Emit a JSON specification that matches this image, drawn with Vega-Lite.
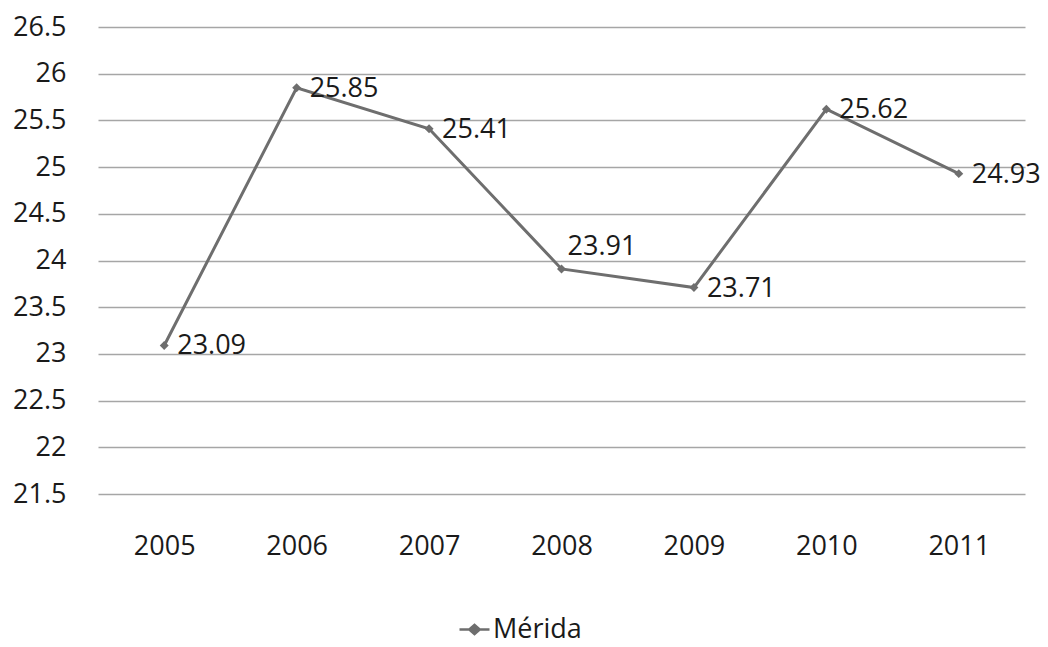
{
  "$schema": "https://vega.github.io/schema/vega-lite/v6.json",
  "width": 927,
  "height": 467,
  "autosize": {"type": "none"},
  "padding": {"left": 98, "top": 27, "right": 23, "bottom": 153},
  "background": "white",
  "config": {
    "view": {"stroke": null},
    "font": "Open Sans",
    "axis": {"labelFont": "Open Sans", "labelFontSize": 27, "labelColor": "#1a1a1a"}
  },
  "data": {
    "values": [
      {"year": "2005", "value": 23.09, "series": "Mérida", "above": false},
      {"year": "2006", "value": 25.85, "series": "Mérida", "above": false},
      {"year": "2007", "value": 25.41, "series": "Mérida", "above": false},
      {"year": "2008", "value": 23.91, "series": "Mérida", "above": true},
      {"year": "2009", "value": 23.71, "series": "Mérida", "above": false},
      {"year": "2010", "value": 25.62, "series": "Mérida", "above": false},
      {"year": "2011", "value": 24.93, "series": "Mérida", "above": false}
    ]
  },
  "encoding": {
    "x": {
      "field": "year", "type": "ordinal", "title": null,
      "scale": {"type": "point", "padding": 0.5},
      "axis": {"labelAngle": 0, "ticks": false, "domain": false, "grid": false, "labelPadding": 39}
    },
    "y": {
      "field": "value", "type": "quantitative", "title": null,
      "scale": {"domain": [21.5, 26.5], "zero": false, "nice": false},
      "axis": {
        "values": [21.5, 22, 22.5, 23, 23.5, 24, 24.5, 25, 25.5, 26, 26.5],
        "format": "~g", "ticks": false, "domain": false, "labelPadding": 32,
        "gridColor": "#a6a6a6", "gridWidth": 1.5
      }
    }
  },
  "layer": [
    {
      "mark": {"type": "line", "strokeWidth": 3},
      "encoding": {
        "color": {
          "field": "series", "type": "nominal",
          "scale": {"range": ["#6e6e6e"]},
          "legend": {
            "title": null, "orient": "none", "legendX": 360, "legendY": 586,
            "labelFontSize": 27, "labelFont": "Open Sans", "labelColor": "#1a1a1a",
            "symbolType": "M-1,0H1M-0.35,0L0,-0.3L0.35,0L0,0.3Z",
            "symbolSize": 900, "symbolStrokeWidth": 2.5, "symbolFillColor": "#6e6e6e",
            "labelOffset": 2
          }
        }
      }
    },
    {
      "mark": {"type": "point", "shape": "diamond", "filled": true, "size": 80, "color": "#6e6e6e", "opacity": 1},
      "encoding": {}
    },
    {
      "transform": [{"filter": "!datum.above"}],
      "mark": {"type": "text", "align": "left", "baseline": "middle", "dx": 13, "dy": 1, "fontSize": 27, "font": "Open Sans", "color": "#1a1a1a"},
      "encoding": {"text": {"field": "value", "type": "quantitative", "format": ".2f"}}
    },
    {
      "transform": [{"filter": "datum.above"}],
      "mark": {"type": "text", "align": "left", "baseline": "middle", "dx": 6, "dy": -22, "fontSize": 27, "font": "Open Sans", "color": "#1a1a1a"},
      "encoding": {"text": {"field": "value", "type": "quantitative", "format": ".2f"}}
    }
  ]
}
